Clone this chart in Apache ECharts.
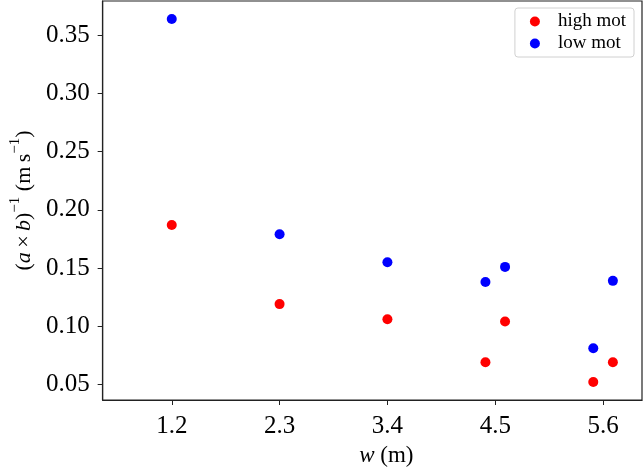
<!DOCTYPE html>
<html>
<head>
<meta charset="utf-8">
<script src="https://cdn.jsdelivr.net/npm/echarts@6/dist/echarts.min.js"></script>
<style>
  html, body { margin: 0; padding: 0; background: #fff; }
  #main { width: 643px; height: 472px; }
</style>
</head>
<body>
<div id="main"></div>
<script>
// data
var highX = [1.2, 2.3, 3.4, 4.4, 4.6, 5.5, 5.7];
var highY = [0.187, 0.119, 0.106, 0.069, 0.104, 0.052, 0.069];
var lowX = [1.2, 2.3, 3.4, 4.4, 4.6, 5.5, 5.7];
var lowY = [0.364, 0.179, 0.155, 0.138, 0.151, 0.081, 0.139];
var xTicks = [1.2, 2.3, 3.4, 4.5, 5.6];
var yTicks = [0.05, 0.10, 0.15, 0.20, 0.25, 0.30, 0.35];

function pairs(xs, ys) {
  return xs.map(function(x, i) { return [x, ys[i]]; });
}

var serif = 'Liberation Serif';
var myChart = echarts.init(document.getElementById('main'));

var option = {
  animation: false,
  grid: {
    left: 101,
    right: 1,
    top: 1,
    bottom: 68,
    show: true,
    borderColor: '#222',
    borderWidth: 1.2
  },
  legend: {
    orient: 'vertical',
    right: 9,
    top: 8,
    icon: 'circle',
    itemWidth: 10,
    itemHeight: 10,
    itemGap: 3,
    padding: [4, 8, 4, 15],
    borderColor: '#d0d0d0',
    borderWidth: 1,
    borderRadius: 3,
    backgroundColor: '#fff',
    textStyle: {
      fontFamily: serif,
      fontSize: 19,
      color: '#000',
      padding: [0, 0, 0, 13]
    },
    data: ['high mot', 'low mot']
  },
  xAxis: {
    type: 'value',
    min: 0.495,
    max: 5.997,
    splitLine: { show: false },
    axisLine: { show: true, onZero: false, lineStyle: { color: '#222', width: 1.2 } },
    axisTick: { show: true, length: 5, customValues: xTicks, lineStyle: { color: '#222' } },
    axisLabel: {
      customValues: xTicks,
      margin: 14,
      fontFamily: serif,
      fontSize: 25,
      color: '#000',
      formatter: function(v) { return v.toFixed(1); }
    },
    name: '{i|w}{n| (m)}',
    nameLocation: 'middle',
    nameGap: 44,
    nameTextStyle: {
      padding: [0, 0, 0, 28],
      rich: {
        i: { fontFamily: serif, fontSize: 23, fontStyle: 'italic', color: '#000' },
        n: { fontFamily: serif, fontSize: 23, color: '#000' }
      }
    }
  },
  yAxis: {
    type: 'value',
    min: 0.0366,
    max: 0.3795,
    splitLine: { show: false },
    axisLine: { show: true, onZero: false, lineStyle: { color: '#222', width: 1.2 } },
    axisTick: { show: true, length: 5, customValues: yTicks, lineStyle: { color: '#222' } },
    axisLabel: {
      customValues: yTicks,
      margin: 13,
      fontFamily: serif,
      fontSize: 25,
      color: '#000',
      formatter: function(v) { return v.toFixed(2); }
    },
    name: '{n|(}{i|a}{n|\u2009×\u2009}{i|b}{n|)}{s|−1}{n| (m\u2009s}{s|−1}{n|)}',
    nameLocation: 'middle',
    nameRotate: 90,
    nameGap: 67,
    nameTextStyle: {
      rich: {
        n: { fontFamily: serif, fontSize: 22, color: '#000', lineHeight: 27, verticalAlign: 'bottom' },
        i: { fontFamily: serif, fontSize: 22, fontStyle: 'italic', color: '#000', lineHeight: 27, verticalAlign: 'bottom' },
        s: { fontFamily: serif, fontSize: 15, color: '#000', lineHeight: 15, verticalAlign: 'top' }
      }
    }
  },
  series: [
    {
      name: 'high mot',
      type: 'scatter',
      symbolSize: 10,
      itemStyle: { color: '#ff0000', opacity: 1 },
      data: pairs(highX, highY)
    },
    {
      name: 'low mot',
      type: 'scatter',
      symbolSize: 10,
      itemStyle: { color: '#0000ff', opacity: 1 },
      data: pairs(lowX, lowY)
    }
  ]
};

myChart.setOption(option);
</script>
</body>
</html>
